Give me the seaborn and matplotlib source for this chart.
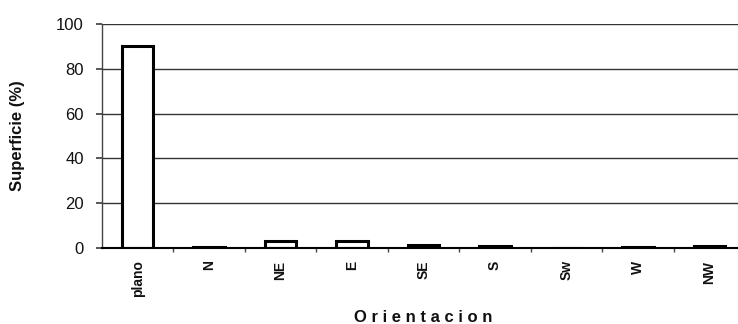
import matplotlib
matplotlib.use("Agg")
import matplotlib.pyplot as plt
import seaborn as sns
import pandas as pd

categories = ["plano", "N", "NE", "E", "SE", "S", "Sw", "W", "NW"]
values = [90, 0.6, 3, 3, 1.5, 0.8, 0.2, 0.5, 1.0]
yticks = [0, 20, 40, 60, 80, 100]

sns.set_theme(style="white")
plt.rcParams['font.family'] = ['Liberation Sans', 'DejaVu Sans']

df = pd.DataFrame({"Orientacion": categories, "Superficie": values})

fig = plt.figure(figsize=(7.38, 3.24), dpi=100)
ax = fig.add_axes([102/738, 1 - 248/324, 643/738, 224/324])

sns.barplot(data=df, x="Orientacion", y="Superficie", ax=ax,
            color="white", edgecolor="black", linewidth=2.2, width=0.44)

ax.set_ylim(0, 100)
ax.set_xlim(-0.5, len(categories) - 0.5)
ax.set_yticks(yticks)
ax.set_yticklabels([str(t) for t in yticks], fontsize=12, color="#111111")
ax.yaxis.grid(True, color="#333333", linewidth=1.0)
ax.set_axisbelow(True)
for s in ["top", "right"]:
    ax.spines[s].set_visible(False)
ax.spines["left"].set_color("#444444")
ax.spines["left"].set_linewidth(1.0)
ax.spines["bottom"].set_color("black")
ax.spines["bottom"].set_linewidth(1.5)

ax.set_xticks(range(len(categories)))
ax.set_xticklabels(categories, rotation=90, fontsize=10, fontweight="bold", color="#111111")
ax.tick_params(axis="x", length=0, pad=9)
ax.tick_params(axis="y", length=4, direction="out", left=True, color="#444444", pad=9)
ax.set_xticks([i + 0.5 for i in range(len(categories) - 1)], minor=True)
ax.tick_params(axis="x", which="minor", length=3, bottom=True, color="#444444")

ax.set_ylabel("Superficie (%)", fontsize=12, fontweight="bold", color="#111111")
ax.yaxis.set_label_coords((25 - 102) / 643, 0.5)
ax.set_xlabel("O r i e n t a c i o n", fontsize=12, fontweight="bold", color="#111111")
ax.xaxis.set_label_coords((423 - 102) / 643, (248 - 310) / 224)

fig.savefig("out.png", dpi=100)
